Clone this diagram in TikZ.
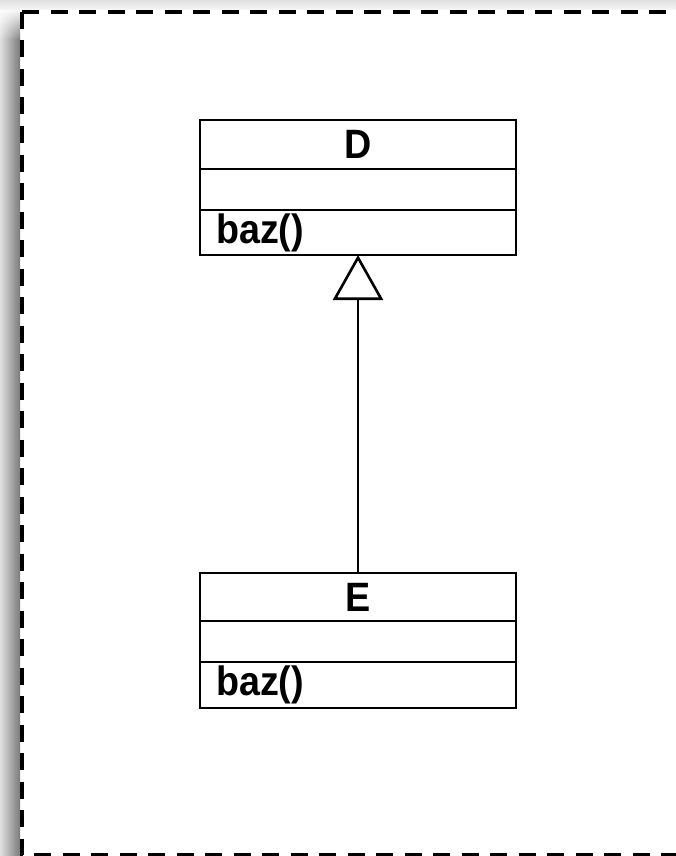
\documentclass[tikz,border=0pt]{standalone}
\usepackage{fontspec}
\setmainfont{Liberation Sans}
\usetikzlibrary{arrows.meta,positioning,fadings}
\begin{document}
\begin{tikzpicture}[x=1pt,y=-1pt,
  cell/.style={draw=black, line width=2.6pt, minimum width=316pt, inner sep=0pt,
    outer sep=0pt, anchor=north, font=\bfseries\fontsize{41}{43}\selectfont},
  namecell/.style={cell, minimum height=49pt},
  attrcell/.style={cell, minimum height=41pt},
  opcell/.style={cell, minimum height=45pt, text width=284pt, align=left},
  frame/.style={line width=3.6pt, dash pattern=on 17pt off 11.5pt},
  inherits/.style={line width=2.6pt, -{Triangle[open, length=45pt, width=50pt, line width=2.6pt]}}
]
\useasboundingbox (0,0) rectangle (676,856);
\fill[white] (0,0) rectangle (676,856);

% soft drop shadow along the top and left of the frame
\shade[top color=black!12, bottom color=black!3] (0,0) rectangle (676,10);
\shade[left color=black!12, right color=black!52, path fading=north] (0,8) rectangle (20,40);
\shade[left color=black!12, right color=black!52] (0,40) rectangle (20,856);

% dashed frame (its right side lies outside the page)
\draw[frame] (22,12) -- (690,12);
\draw[frame] (22,12) -- (22,855) -- (690,855);

% class D
\node[namecell] (Dname) at (358,120) {\scalebox{0.92}[1]{D}};
\node[attrcell] (Dattr) at (Dname.south) {};
\node[opcell]   (Dops)  at (Dattr.south) {\scalebox{0.92}[1]{baz()}};

% class E
\node[namecell, minimum height=48pt] (Ename) at (358,573) {\scalebox{0.92}[1]{E}};
\node[attrcell] (Eattr) at (Ename.south) {};
\node[opcell, minimum height=46pt] (Eops) at (Eattr.south) {\scalebox{0.92}[1]{baz()}};

% generalization E -> D
\draw[inherits] (Ename.north) -- (Dops.south);
\end{tikzpicture}
\end{document}
